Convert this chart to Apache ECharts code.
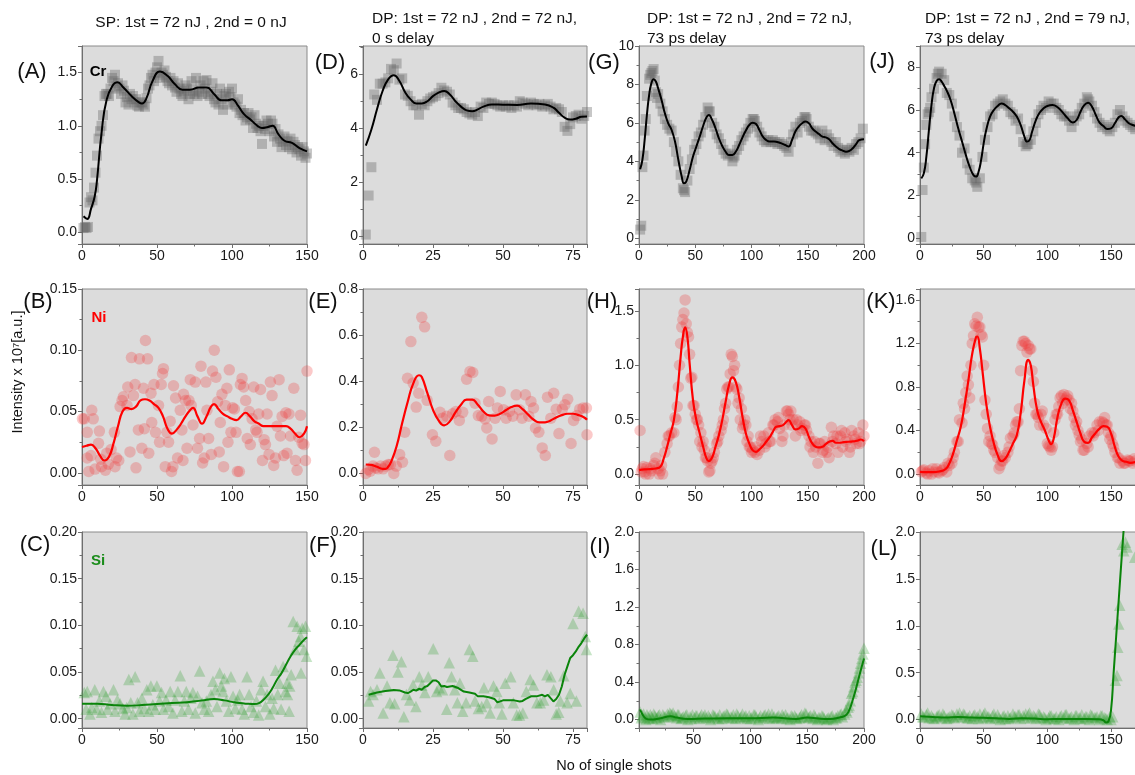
<!DOCTYPE html>
<html><head><meta charset="utf-8">
<script src="https://cdn.jsdelivr.net/npm/echarts@6/dist/echarts.min.js"></script>
<style>html,body{margin:0;padding:0;background:#fff}#c{width:1135px;height:775px}</style>
</head><body><div id="c"></div>
<script>
// ---------- DATA ----------
const colTitles = [
  ["SP: 1st = 72 nJ , 2nd = 0 nJ"],
  ["DP: 1st = 72 nJ , 2nd = 72 nJ,", "0 s delay"],
  ["DP: 1st = 72 nJ , 2nd = 72 nJ,", "73 ps delay"],
  ["DP: 1st = 72 nJ , 2nd = 79 nJ,", "73 ps delay"]
];
const panelLetters = ["A","D","G","J","B","E","H","K","C","F","I","L"];
const elements = ["Cr","Ni","Si"];
const yAxisName = "Intensity x 10\u2077[a.u.]";
const xAxisName = "No of single shots";

// Cr (row 1) scatter values (y per shot, x0, dx)
const A_y = [0.04,0.05,0.04,0.05,0.28,0.33,0.30,0.42,0.56,0.72,
 0.88,0.95,1.00,1.10,1.28,1.30,1.30,1.28,1.35,1.45,
 1.42,1.48,1.37,1.40,1.35,1.30,1.38,1.33,1.22,1.27,
 1.20,1.30,1.25,1.28,1.22,1.25,1.19,1.18,1.22,1.22,
 1.20,1.18,1.26,1.35,1.38,1.45,1.48,1.42,1.50,1.55,
 1.61,1.45,1.50,1.48,1.52,1.46,1.42,1.40,1.45,1.38,
 1.42,1.36,1.32,1.40,1.35,1.30,1.28,1.33,1.38,1.35,
 1.25,1.30,1.42,1.33,1.30,1.45,1.28,1.32,1.38,1.30,
 1.42,1.35,1.43,1.30,1.28,1.32,1.40,1.25,1.22,1.30,
 1.20,1.35,1.25,1.15,1.28,1.30,1.20,1.32,1.27,1.35,
 1.22,1.20,1.18,1.25,1.12,1.15,1.10,1.12,1.05,1.08,
 1.12,1.06,1.08,0.98,1.10,1.02,0.98,1.00,0.95,0.83,
 1.00,0.97,1.05,1.02,0.95,1.05,1.02,0.90,0.97,0.85,
 0.92,0.88,0.80,0.85,0.90,0.82,0.86,0.80,0.88,0.78,
 0.85,0.82,0.75,0.80,0.78,0.72,0.80,0.76,0.70,0.74];
const A_fit = [[1,0.15],[3.5,0.125],[6,0.22],[8.5,0.34],[10,0.49],[13,0.93],[16.5,1.25],[21,1.39],[23.5,1.41],[27.6,1.36],[33,1.28],[38,1.22],[40,1.21],[43,1.26],[47,1.42],[52,1.51],[57,1.47],[62,1.39],[67,1.34],[72,1.34],[78,1.36],[83,1.36],[88,1.30],[93,1.24],[97,1.24],[100,1.25],[104,1.19],[108,1.11],[113,1.05],[117,1.0],[120,0.98],[124,0.99],[127,1.0],[131,0.92],[135,0.86],[140,0.84],[145,0.79],[150,0.76]];

const D_y = [0.05,1.5,2.55,5.25,5.05,5.65,5.65,5.7,5.85,6.2,
 6.15,6.4,5.8,5.85,5.25,5.2,5.0,4.85,4.85,4.5,
 4.9,4.85,5.0,5.1,5.15,5.2,5.3,5.5,5.4,5.35,
 5.25,4.95,4.85,4.75,4.75,4.7,4.6,4.55,4.5,4.6,
 4.45,4.8,4.75,4.95,4.9,4.95,4.9,4.85,4.8,4.85,
 4.8,4.85,4.75,4.85,4.8,5.0,4.95,4.9,4.85,4.95,
 4.9,4.85,4.9,4.8,4.85,4.9,4.8,4.7,4.75,4.7,
 4.6,4.05,3.9,4.15,4.4,4.45,4.5,4.35,4.45,4.6];
const D_fit = [[1,3.35],[3,3.95],[5,4.7],[7,5.38],[9,5.81],[11,5.96],[13,5.75],[15,5.34],[17,5.07],[19,4.92],[21,4.92],[23,5.0],[25,5.19],[27,5.32],[29,5.38],[31,5.25],[33,5.0],[35,4.8],[37,4.66],[39,4.63],[41,4.7],[43,4.8],[46,4.88],[50,4.87],[55,4.86],[60,4.92],[65,4.88],[68,4.76],[70,4.57],[72,4.39],[74,4.32],[76,4.35],[78,4.42],[80,4.43]];

const G_y = [0.45,3.7,5.6,7.4,8.3,8.6,8.8,7.6,7.5,7.0,
 6.6,6.2,5.9,5.7,5.6,5.0,4.5,4.0,3.3,2.6,
 2.4,3.0,3.6,4.1,4.6,4.9,5.3,5.5,5.9,6.3,
 6.8,6.6,6.0,5.8,5.4,5.2,4.9,4.6,4.4,4.3,
 4.4,4.0,4.3,4.6,4.8,5.1,5.3,5.5,5.7,6.0,
 6.2,6.1,5.8,5.5,5.3,5.1,5.0,5.1,5.0,5.1,
 5.0,4.9,5.0,4.9,4.8,4.7,4.5,5.0,5.4,5.8,
 5.5,6.0,6.1,6.3,6.2,5.8,5.6,5.6,5.5,5.4,
 5.2,5.6,5.1,5.4,5.2,5.0,4.8,5.0,4.7,4.5,
 4.6,4.4,4.6,4.5,4.7,4.6,4.9,5.0,5.2,5.7];
const G_extra = [[2,0.65],[4,4.3],[6,6.2],[10,8.5],[12,8.7],[14,8.2],[16,7.3],[40,2.5],[62,6.6],[84,4.2],[102,6.2],[148,6.3]];
const G_fit = [[1,3.59],[3,4.07],[5,5.1],[7,6.4],[9,7.45],[11,8.06],[13,8.27],[15,8.15],[17,7.8],[20,7.2],[23,6.5],[26,5.98],[29,5.63],[32,5.03],[35,4.07],[38,3.2],[40,2.86],[42,2.95],[45,3.55],[48,4.25],[51,4.77],[54,5.29],[57,5.84],[60,6.29],[62,6.41],[65,6.15],[68,5.72],[71,5.2],[74,4.8],[77,4.5],[80,4.33],[83,4.33],[86,4.5],[89,4.85],[92,5.25],[95,5.6],[98,5.89],[101,6.01],[104,5.94],[107,5.63],[110,5.29],[113,5.11],[116,5.03],[120,5.03],[125,4.97],[130,4.85],[133,4.77],[136,5.11],[139,5.55],[142,5.81],[145,5.98],[148,6.07],[151,5.98],[154,5.72],[157,5.55],[160,5.42],[163,5.29],[166,5.25],[169,5.15],[172,4.94],[175,4.77],[178,4.64],[181,4.56],[184,4.5],[187,4.54],[190,4.68],[193,4.9],[196,5.11],[200,5.15]];

const J_y = [0.05,3.3,5.3,5.9,6.6,7.0,7.5,7.8,7.7,7.4,
 6.8,6.7,6.3,5.7,5.2,4.8,4.0,4.2,3.5,3.2,
 2.8,2.7,2.4,2.8,3.8,4.6,5.2,5.7,5.8,6.2,
 6.3,6.4,6.5,6.3,6.2,5.9,5.8,5.5,5.6,5.1,
 4.5,4.3,4.4,4.6,5.0,5.4,5.8,6.0,6.2,6.1,
 6.4,6.3,6.3,6.1,6.0,5.8,5.7,5.7,5.5,5.2,
 5.5,5.7,5.8,6.1,6.3,6.6,6.4,6.2,5.9,5.6,
 5.4,5.2,5.3,5.1,5.0,5.2,5.4,5.8,6.0,5.7,
 5.5,5.4,5.3,5.2,5.1];
const J_extra = [[2,2.25],[4,4.4],[6,5.8],[8,6.1],[14,7.7],[44,2.6],[84,4.4],[132,6.5]];
const J_fit = [[1,2.8],[3,3.03],[5,3.81],[7,5.06],[9,6.23],[11,7.02],[13,7.36],[15,7.44],[17,7.33],[19,7.13],[21,6.91],[24,6.47],[27,5.84],[30,5.14],[33,4.52],[36,3.89],[39,3.34],[42,2.95],[44,2.88],[46,3.11],[48,3.66],[50,4.44],[52,5.06],[55,5.69],[58,6.0],[61,6.19],[64,6.31],[67,6.23],[70,6.08],[73,5.92],[76,5.69],[79,5.3],[82,4.75],[84,4.52],[86,4.59],[88,4.98],[91,5.53],[94,5.88],[97,6.08],[100,6.19],[104,6.23],[108,6.13],[112,5.89],[116,5.61],[120,5.42],[123,5.53],[126,5.92],[129,6.23],[132,6.34],[135,6.16],[138,5.77],[141,5.41],[144,5.25],[147,5.11],[150,5.14],[153,5.38],[156,5.66],[158,5.72],[161,5.56],[164,5.38],[167,5.3],[170,5.25]];

// Ni (row 2)
const B_pts = [[0.3,0.044],[1.5,0.044],[3.5,0.033],[3.5,0.012],[4.5,0.001],[6,0.014],[6.5,0.051],[7.5,0.044],[8.7,0.003],[11,0.024],[11.6,0.034],[12.5,0.011],[13,0.005],[15.6,0.002],[16.5,0.016],[17.6,0.007],[19.4,0.019],[21.6,0.033],[22,0.005],[23,0.012],[24.5,0.010],[25.4,0.054],[26.7,0.059],[27.6,0.062],[30,0.055],[30.5,0.070],[32,0.017],[33,0.094],[34.3,0.063],[35.4,0.072],[36,0.004],[37.6,0.035],[38.3,0.093],[39.9,0.020],[41,0.069],[41.6,0.036],[42.3,0.108],[43.7,0.093],[44.5,0.016],[46,0.065],[46.5,0.041],[48,0.072],[49,0.033],[51,0.055],[51.7,0.025],[52.8,0.072],[53.7,0.081],[54.3,0.085],[55.5,0.005],[56.6,0.033],[57.7,0.025],[58.8,0.042],[59.7,0.001],[60.6,0.005],[61,0.071],[62.4,0.061],[63.7,0.012],[65.5,0.051],[66.6,0.035],[67.3,0.010],[67.7,0.064],[69,0.059],[70,0.020],[71.3,0.059],[72.2,0.076],[72.8,0.055],[74,0.039],[75.5,0.074],[77,0.020],[78.4,0.028],[79.3,0.087],[80.4,0.008],[81.5,0.012],[82.6,0.074],[83.3,0.051],[84.4,0.028],[86.2,0.015],[87,0.083],[88.2,0.100],[89.3,0.078],[90.4,0.058],[91.5,0.017],[92.2,0.041],[93.3,0.064],[94.4,0.005],[95.5,0.055],[96.6,0.069],[97.3,0.025],[98.2,0.084],[99.3,0.033],[100.4,0.053],[101.6,0.052],[102.7,0.033],[103.6,0.001],[104.9,0.001],[105.6,0.072],[106.7,0.077],[107.8,0.070],[109.1,0.059],[110.2,0.028],[111.4,0.050],[112.2,0.023],[113.4,0.044],[114.5,0.070],[115.8,0.035],[116.7,0.033],[117.8,0.048],[119,0.068],[120.3,0.010],[121.4,0.027],[122.3,0.023],[123.4,0.048],[124.7,0.015],[125.6,0.074],[126.7,0.063],[127.8,0.006],[129,0.012],[130,0.038],[131.4,0.076],[132.3,0.030],[133.4,0.046],[134.5,0.014],[135.9,0.049],[136.7,0.016],[138,0.048],[139,0.030],[141.2,0.069],[142.3,0.010],[143.4,0.002],[144.5,0.029],[145.7,0.047],[146.8,0.024],[148,0.023],[149,0.010],[150,0.083]];
const B_fit = [[0,0.021],[3,0.022],[6,0.023],[9,0.020],[12,0.014],[15,0.010],[18,0.013],[21,0.024],[24,0.038],[27,0.050],[30,0.053],[33,0.052],[36,0.054],[39,0.059],[42,0.060],[45,0.059],[48,0.056],[51,0.053],[54,0.046],[57,0.036],[60,0.032],[63,0.035],[66,0.040],[69,0.046],[72,0.051],[74,0.053],[77,0.046],[80,0.040],[83,0.046],[86,0.054],[88,0.056],[91,0.052],[94,0.048],[97,0.046],[100,0.044],[103,0.043],[106,0.046],[109,0.049],[112,0.046],[115,0.042],[118,0.040],[121,0.038],[124,0.038],[130,0.038],[136,0.038],[139,0.036],[142,0.032],[145,0.029],[148,0.032],[150,0.038]];

const E_pts = [[1,0.0],[1.9,0.017],[2.6,0.010],[3.6,0.032],[4.1,0.092],[4.5,0.024],[5.4,0.020],[6.3,0.032],[7.2,0.020],[8.1,0.032],[9,0.039],[9.8,0.039],[11,0.0],[11.9,0.032],[13.1,0.082],[14.1,0.049],[14.9,0.179],[15.9,0.413],[17.1,0.572],[17.9,0.392],[19,0.288],[19.9,0.348],[21,0.677],[22,0.636],[22.9,0.317],[24.8,0.168],[26,0.140],[27.5,0.265],[28.4,0.240],[29.9,0.248],[31,0.078],[32,0.259],[33.2,0.269],[34.4,0.230],[35.6,0.265],[37,0.409],[38.2,0.442],[39.2,0.438],[40,0.305],[41.2,0.251],[42.4,0.248],[43.6,0.236],[44.2,0.197],[44.9,0.312],[46.1,0.150],[47.2,0.240],[48,0.284],[49,0.356],[50.2,0.276],[51.1,0.240],[52.3,0.269],[53.5,0.248],[54.7,0.341],[55.9,0.276],[56.8,0.240],[58,0.341],[59.2,0.248],[60,0.312],[60.9,0.284],[61.6,0.197],[62.8,0.179],[64,0.111],[65.1,0.078],[65.9,0.331],[67.1,0.240],[68.1,0.348],[69,0.279],[70,0.173],[71.2,0.279],[72.1,0.298],[73.1,0.322],[74.3,0.130],[75.2,0.230],[76.4,0.251],[77.4,0.279],[78.6,0.284],[79.8,0.284],[80,0.168]];
const E_fit = [[1,0.039],[3,0.037],[5,0.029],[7,0.02],[8,0.02],[9,0.029],[10,0.049],[12,0.118],[14,0.219],[16,0.312],[18,0.392],[20,0.426],[21,0.418],[23,0.348],[25,0.276],[27,0.23],[29,0.209],[31,0.226],[33,0.265],[35,0.298],[37,0.32],[39,0.32],[41,0.298],[43,0.269],[45,0.252],[47,0.251],[49,0.259],[51,0.274],[53,0.288],[55,0.294],[57,0.279],[59,0.255],[61,0.233],[63,0.222],[65,0.222],[67,0.23],[69,0.243],[71,0.253],[73,0.259],[75,0.259],[77,0.253],[79,0.243],[80,0.233]];

const H_y = [0.40,0.05,0.02,0.06,0.0,0.03,0.08,0.15,0.05,0.03,
 0.0,0.2,0.28,0.35,0.38,0.38,0.5,0.8,1.2,1.42,
 1.60,1.3,1.1,0.89,0.63,0.5,0.45,0.38,0.3,0.15,
 0.12,0.03,0.12,0.2,0.28,0.35,0.4,0.5,0.65,0.8,
 0.92,1.08,1.0,0.78,0.7,0.6,0.45,0.45,0.35,0.25,
 0.22,0.2,0.18,0.22,0.3,0.35,0.28,0.38,0.3,0.45,
 0.5,0.48,0.42,0.3,0.45,0.58,0.55,0.58,0.5,0.35,
 0.45,0.48,0.42,0.45,0.4,0.35,0.3,0.2,0.25,0.1,
 0.28,0.2,0.3,0.2,0.15,0.43,0.35,0.28,0.2,0.35,
 0.25,0.38,0.32,0.2,0.4,0.35,0.28,0.38,0.3,0.45];
const H_extra = [[2,0.02],[4,0.07],[6,0.0],[10,0.05],[14,0.1],[18,0.0],[20,0.08],[26,0.35],[32,0.52],[34,0.62],[36,1.0],[38,1.35],[40,1.48],[42,1.38],[44,1.26],[46,0.88],[48,0.63],[50,0.55],[52,0.5],[54,0.3],[56,0.25],[58,0.22],[60,0.15],[62,0.02],[64,0.1],[66,0.15],[70,0.3],[74,0.45],[76,0.6],[78,0.78],[80,0.8],[82,1.1],[84,0.95],[86,0.8],[88,0.65],[90,0.5],[92,0.42],[94,0.5],[96,0.3],[98,0.25],[100,0.2],[104,0.25],[108,0.35],[112,0.25],[116,0.3],[120,0.45],[124,0.52],[128,0.35],[132,0.58],[134,0.5],[136,0.45],[140,0.5],[144,0.4],[148,0.45],[152,0.25],[156,0.3],[160,0.28],[164,0.22],[168,0.25],[172,0.3],[176,0.35],[180,0.4],[184,0.3],[188,0.25],[192,0.32],[196,0.28],[200,0.35]];
const H_fit = [[0,0.037],[5,0.043],[10,0.046],[15,0.052],[19,0.067],[22,0.144],[25,0.251],[28,0.373],[31,0.496],[34,0.741],[37,1.077],[39,1.261],[41,1.347],[43,1.261],[45,1.016],[48,0.68],[51,0.496],[54,0.373],[57,0.251],[60,0.144],[62,0.119],[65,0.153],[68,0.251],[71,0.358],[74,0.496],[77,0.664],[80,0.817],[83,0.888],[86,0.848],[89,0.71],[92,0.526],[95,0.373],[98,0.282],[101,0.22],[104,0.205],[107,0.227],[110,0.257],[113,0.297],[116,0.337],[119,0.389],[122,0.435],[125,0.441],[128,0.45],[131,0.481],[133,0.496],[136,0.45],[139,0.41],[142,0.419],[145,0.441],[148,0.419],[151,0.343],[154,0.282],[157,0.251],[160,0.245],[163,0.251],[166,0.275],[169,0.297],[172,0.306],[175,0.288],[178,0.288],[182,0.294],[186,0.297],[190,0.3],[194,0.306],[197,0.318],[200,0.303]];

const K_y = [0.02,0.04,0.01,0.03,0.0,0.02,0.05,0.01,0.03,0.06,
 0.02,0.08,0.10,0.2,0.3,0.5,0.47,0.6,0.9,0.7,
 1.2,1.38,1.44,1.35,1.26,0.68,0.42,0.35,0.27,0.2,
 0.15,0.08,0.12,0.15,0.2,0.33,0.35,0.45,0.48,0.95,
 1.22,1.2,1.18,1.15,0.85,0.55,0.52,0.55,0.45,0.42,
 0.26,0.22,0.38,0.55,0.62,0.72,0.73,0.7,0.68,0.65,
 0.52,0.48,0.36,0.32,0.22,0.28,0.35,0.38,0.38,0.45,
 0.48,0.48,0.52,0.45,0.32,0.28,0.2,0.15,0.1,0.12,
 0.1,0.13,0.12,0.1,0.12];
const K_extra = [[2,0.03],[6,0.0],[10,0.05],[14,0.02],[18,0.04],[22,0.1],[26,0.15],[30,0.3],[34,0.65],[36,0.75],[38,0.82],[40,1.0],[42,1.27],[44,1.36],[46,1.35],[48,1.28],[50,1.0],[52,0.55],[54,0.3],[56,0.28],[58,0.22],[62,0.05],[64,0.12],[66,0.17],[70,0.25],[74,0.38],[76,0.48],[78,0.6],[80,1.18],[82,1.22],[84,1.12],[86,1.15],[88,0.95],[90,0.65],[92,0.55],[94,0.45],[96,0.58],[100,0.28],[102,0.25],[104,0.25],[106,0.5],[108,0.55],[110,0.7],[112,0.65],[114,0.68],[116,0.72],[118,0.6],[120,0.58],[122,0.45],[124,0.4],[126,0.3],[128,0.22],[132,0.25],[136,0.35],[140,0.4],[144,0.47],[146,0.45],[148,0.38],[150,0.35],[152,0.25],[156,0.15],[160,0.1],[164,0.12],[168,0.14]];
const K_fit = [[0,0.021],[5,0.018],[10,0.018],[15,0.024],[20,0.046],[23,0.098],[26,0.189],[29,0.311],[32,0.434],[35,0.632],[38,0.861],[41,1.105],[44,1.258],[45,1.264],[47,1.151],[49,0.953],[52,0.647],[55,0.434],[58,0.281],[61,0.174],[64,0.119],[67,0.144],[70,0.205],[73,0.281],[76,0.357],[79,0.556],[82,0.861],[85,1.05],[87,0.998],[89,0.815],[92,0.586],[95,0.479],[98,0.403],[101,0.311],[103,0.275],[105,0.327],[108,0.525],[111,0.647],[114,0.693],[117,0.678],[120,0.586],[123,0.479],[126,0.373],[129,0.296],[132,0.287],[135,0.336],[138,0.379],[141,0.418],[144,0.44],[147,0.434],[150,0.373],[153,0.25],[156,0.159],[159,0.122],[162,0.113],[165,0.104],[170,0.113]];

// Si (row 3)
const C_pts = [[1.5,0.028],[3.5,0.029],[2.7,0.010],[5.3,0.005],[6.5,0.012],[8.5,0.031],[9.8,0.010],[11.6,0.019],[13,0.007],[14.3,0.029],[16,0.024],[17,0.010],[18.7,0.016],[21,0.031],[22,0.008],[23.6,0.020],[25.4,0.016],[27.2,0.011],[28.7,0.005],[29.8,0.012],[31.2,0.042],[32.5,0.017],[33.9,0.005],[35.4,0.045],[37,0.017],[38.3,0.008],[39.9,0.022],[41.4,0.011],[43.2,0.031],[44.5,0.008],[45.9,0.035],[47.2,0.015],[48.8,0.010],[49.9,0.035],[51.7,0.019],[53,0.028],[54.3,0.010],[56.1,0.020],[57.7,0.013],[58.8,0.029],[60.6,0.006],[62.1,0.020],[63.9,0.029],[65.5,0.046],[66.6,0.008],[68.2,0.019],[69.5,0.029],[71,0.010],[72.6,0.022],[73.9,0.028],[75.5,0.006],[77,0.024],[78.4,0.051],[80,0.017],[81.5,0.010],[82.9,0.019],[84.4,0.008],[86,0.026],[87.3,0.040],[88.9,0.031],[90,0.013],[91.8,0.049],[92.9,0.035],[94,0.029],[94.9,0.043],[96.2,0.019],[97.8,0.008],[99.3,0.045],[100.7,0.024],[102.2,0.011],[103.8,0.020],[105.1,0.026],[106.7,0.010],[108.2,0.005],[110,0.045],[111.4,0.026],[112.7,0.013],[114.5,0.007],[116.3,0.019],[117.8,0.004],[119.4,0.031],[120.7,0.040],[122.3,0.013],[123.4,0.026],[125.2,0.005],[126.7,0.022],[127.8,0.011],[129,0.052],[130.5,0.026],[131.8,0.038],[132.7,0.010],[134.1,0.056],[135.6,0.029],[136.7,0.038],[137,0.026],[138.1,0.008],[138.5,0.035],[139.4,0.047],[140.8,0.104],[142.1,0.074],[143.4,0.099],[144.5,0.083],[145.7,0.088],[146,0.049],[146.8,0.097],[148,0.074],[149,0.099],[149.7,0.067]];
const C_fit = [[0,0.016],[10,0.016],[20,0.0146],[30,0.0139],[40,0.0146],[50,0.0157],[60,0.0167],[70,0.0175],[80,0.0196],[88,0.021],[95,0.0196],[100,0.018],[105,0.0167],[110,0.016],[115,0.0157],[118,0.0167],[121,0.0203],[124,0.0256],[127,0.0328],[130,0.0417],[133,0.0488],[136,0.0577],[139,0.0666],[142,0.0737],[145,0.0791],[148,0.0844],[150,0.0873]];

const F_pts = [[2,0.019],[2.7,0.029],[3.6,0.026],[5,0.031],[6,0.049],[7.2,0.006],[8.6,0.035],[9.6,0.017],[10.7,0.068],[11.3,0.016],[12.5,0.050],[13.7,0.061],[14.6,0.002],[15.5,0.026],[16.7,0.020],[17.9,0.036],[18.9,0.013],[20.1,0.045],[21,0.036],[22.1,0.028],[23.3,0.045],[25.1,0.075],[26.3,0.029],[27.2,0.033],[28.4,0.031],[29.9,0.010],[30.8,0.060],[31.6,0.045],[32.8,0.031],[33.7,0.017],[34.6,0.038],[35.6,0.008],[36.8,0.017],[38,0.074],[39.2,0.067],[40,0.019],[41.2,0.011],[42.4,0.013],[43.2,0.033],[44.2,0.017],[45.4,0.006],[46.6,0.035],[47.8,0.029],[48.7,0.017],[49.6,0.005],[50.8,0.038],[52.8,0.045],[53.7,0.017],[54.9,0.004],[55.9,0.004],[57.1,0.006],[58.3,0.029],[59.7,0.042],[60.9,0.036],[62.1,0.017],[63.3,0.017],[64.5,0.020],[65.7,0.047],[67.1,0.045],[68.1,0.031],[69,0.005],[69.9,0.007],[70.5,0.019],[71.7,0.046],[72.9,0.017],[74,0.027],[75,0.102],[76.2,0.019],[77,0.115],[78.6,0.113],[79.4,0.088],[79.8,0.074]];
const F_fit = [[2,0.0256],[5,0.028],[8,0.0296],[11,0.0306],[13,0.0303],[15,0.028],[16,0.0274],[17,0.029],[18,0.031],[19,0.030],[20,0.032],[21,0.031],[22,0.034],[23,0.035],[24,0.038],[25,0.041],[26,0.041],[27,0.039],[28,0.0345],[29,0.035],[30,0.034],[32,0.035],[34,0.0328],[36,0.029],[38,0.028],[40,0.0267],[41,0.0239],[43,0.024],[45,0.023],[47,0.021],[48,0.0175],[49,0.0185],[50,0.0196],[52,0.0196],[54,0.0196],[56,0.0185],[57,0.019],[58,0.021],[60,0.0239],[62,0.0239],[64,0.0256],[65,0.0239],[66,0.0256],[67,0.022],[68,0.0185],[69,0.021],[70,0.0256],[71,0.0345],[72,0.047],[73,0.056],[74,0.065],[75,0.068],[76,0.072],[77,0.077],[78,0.081],[79,0.086],[80,0.090]];

const I_y = [0.08,0.04,0.02,0.05,0.01,0.03,0.06,0.02,0.04,0.0,
 0.05,0.03,0.06,0.07,0.05,0.04,0.02,0.05,0.01,0.03,
 0.04,0.0,0.03,0.05,0.02,0.04,0.01,0.05,0.03,0.02,
 0.04,0.0,0.05,0.03,0.02,0.05,0.01,0.04,0.06,0.02,
 0.03,0.05,0.01,0.04,0.02,0.06,0.03,0.01,0.04,0.02,
 0.05,0.03,0.0,0.04,0.02,0.05,0.03,0.01,0.06,0.03,
 0.02,0.04,0.01,0.03,0.05,0.02,0.0,0.03,0.04,0.01,
 0.02,0.05,0.03,0.06,0.02,0.04,0.01,0.03,0.0,0.02,
 0.04,0.01,0.0,0.02,0.03,0.0,0.02,0.04,0.05,0.03,
 0.06,0.08,0.15,0.28,0.35,0.42,0.5,0.6,0.7];
const I_extra = [[4,0.02],[6,0.06],[8,0.0],[10,0.03],[12,0.05],[14,0.01],[16,0.04],[18,0.02],[20,0.05],[24,0.03],[28,0.04],[30,0.06],[32,0.07],[34,0.03],[36,0.05],[40,0.02],[44,0.05],[48,0.01],[52,0.04],[56,0.03],[60,0.05],[64,0.02],[68,0.04],[72,0.01],[76,0.03],[80,0.05],[84,0.02],[88,0.06],[92,0.03],[96,0.04],[100,0.01],[104,0.05],[108,0.02],[112,0.04],[116,0.06],[120,0.02],[124,0.03],[128,0.05],[132,0.01],[136,0.04],[140,0.02],[144,0.03],[148,0.07],[152,0.03],[156,0.05],[160,0.02],[164,0.03],[168,0.01],[172,0.04],[176,0.02],[180,0.06],[184,0.1],[186,0.13],[188,0.2],[190,0.3],[192,0.4],[194,0.45],[196,0.55],[198,0.65],[200,0.76]];
const I_fit = [[3,0.107],[5,0.057],[8,0.011],[12,0.0],[20,0.011],[30,0.036],[35,0.021],[45,0.007],[60,0.011],[80,0.014],[100,0.014],[120,0.021],[140,0.007],[150,0.021],[160,0.011],[170,0.007],[180,0.028],[184,0.046],[187,0.1],[190,0.206],[193,0.331],[196,0.473],[198,0.562],[200,0.651]];

const L_y = [0.06,0.03,0.05,0.02,0.04,0.01,0.03,0.05,0.02,0.04,
 0.01,0.03,0.05,0.02,0.06,0.07,0.03,0.05,0.02,0.04,
 0.01,0.05,0.03,0.06,0.02,0.07,0.03,0.01,0.04,0.02,
 0.05,0.0,0.03,0.01,0.04,0.02,0.06,0.03,0.05,0.01,
 0.04,0.06,0.05,0.02,0.04,0.01,0.06,0.02,0.03,0.0,
 0.02,0.04,0.01,0.03,0.0,0.04,0.02,0.05,0.01,0.03,
 0.0,0.04,0.02,0.05,0.01,0.03,0.0,0.04,0.02,0.03,
 0.0,0.04,0.02,0.0,0.03];
const L_extra = [[2,0.03],[6,0.07],[10,0.02],[14,0.04],[18,0.06],[22,0.02],[26,0.04],[30,0.03],[34,0.06],[38,0.02],[42,0.04],[46,0.01],[50,0.05],[54,0.03],[58,0.06],[62,0.02],[66,0.04],[70,0.01],[74,0.03],[78,0.05],[82,0.02],[86,0.07],[90,0.03],[94,0.05],[98,0.02],[102,0.04],[106,0.01],[110,0.03],[114,0.05],[118,0.02],[122,0.04],[126,0.01],[130,0.03],[134,0.05],[138,0.02],[142,0.04],[146,0.01],[150,0.0],[151.3,0.03],[153.4,0.42],[154.7,0.47],[155.3,0.77],[156,1.02],[156.8,1.22],[158.7,1.87],[160,1.8],[161.3,1.89],[162.6,1.84],[168.6,1.73]];
const L_fit = [[0,0.035],[10,0.028],[20,0.021],[30,0.028],[40,0.021],[50,0.018],[60,0.014],[70,0.007],[80,0.014],[90,0.011],[100,0.004],[110,0.007],[120,0.007],[130,0.007],[140,0.004],[144,-0.007],[146,-0.032],[148,-0.018],[150,0.1],[152,0.49],[154,0.88],[156,1.27],[158,1.66],[160,2.04],[162,2.42]];

// ---------- BUILD ----------
function seq(x0, dx, ys) { return ys.map((y, i) => [x0 + i * dx, y]); }

const FONT = "'Liberation Sans', Arial, Helvetica, sans-serif";
const colX = [82, 363, 639, 920];
const colW = [225, 224, 225, 216.5];
const rowY = [46, 289, 532];
const rowH = [198, 196, 196];

const styles = [
  {symbol: 'rect', size: 10, color: 'rgba(100,100,100,0.45)', line: '#000000', lw: 2},
  {symbol: 'circle', size: 11.5, color: 'rgba(240,60,60,0.35)', line: '#ff0000', lw: 2.2},
  {symbol: 'triangle', size: 11.5, color: 'rgba(50,160,50,0.35)', line: '#0a840a', lw: 2}
];

const panels = [
  {r:0,c:0, x:[0,150,50], y:[-0.11,1.75,0.5], yd:1, yMaxLab:false, xMinLab:true, xMaxLab:true, pts:seq(1,1,A_y), fit:A_fit, smooth:true},
  {r:0,c:1, x:[0,80,25], y:[-0.3,7.05,2], yd:0, yMaxLab:false, xMinLab:true, xMaxLab:false, pts:seq(1,1,D_y), fit:D_fit, smooth:true},
  {r:0,c:2, x:[0,200,50], y:[-0.3,10,2], yd:0, yMaxLab:true, xMinLab:true, xMaxLab:true, pts:seq(1,2,G_y).concat(G_extra), fit:G_fit, smooth:true},
  {r:0,c:3, x:[0,170,50], y:[-0.28,9.0,2], yd:0, yMaxLab:false, xMinLab:true, xMaxLab:false, pts:seq(1,2,J_y).concat(J_extra), fit:J_fit, smooth:true},
  {r:1,c:0, x:[0,150,50], y:[-0.01,0.15,0.05], yd:2, yMaxLab:true, xMinLab:true, xMaxLab:true, pts:B_pts, fit:B_fit, smooth:true},
  {r:1,c:1, x:[0,80,25], y:[-0.05,0.8,0.2], yd:1, yMaxLab:true, xMinLab:true, xMaxLab:false, pts:E_pts, fit:E_fit, smooth:true},
  {r:1,c:2, x:[0,200,50], y:[-0.1,1.7,0.5], yd:1, yMaxLab:false, xMinLab:true, xMaxLab:true, pts:seq(1,2,H_y).concat(H_extra), fit:H_fit, smooth:true},
  {r:1,c:3, x:[0,170,50], y:[-0.1,1.7,0.4], yd:1, yMaxLab:false, xMinLab:true, xMaxLab:false, pts:seq(1,2,K_y).concat(K_extra), fit:K_fit, smooth:true},
  {r:2,c:0, x:[0,150,50], y:[-0.01,0.2,0.05], yd:2, yMaxLab:true, xMinLab:true, xMaxLab:true, pts:C_pts, fit:C_fit, smooth:true},
  {r:2,c:1, x:[0,80,25], y:[-0.01,0.2,0.05], yd:2, yMaxLab:true, xMinLab:true, xMaxLab:false, pts:F_pts, fit:F_fit, smooth:false},
  {r:2,c:2, x:[2,200,50], y:[-0.09,2.0,0.4], yd:1, yMaxLab:true, xMinLab:false, xMaxLab:true, pts:seq(3,2,I_y).concat(I_extra), fit:I_fit, smooth:true},
  {r:2,c:3, x:[0,170,50], y:[-0.09,2.0,0.5], yd:1, yMaxLab:true, xMinLab:true, xMaxLab:false, pts:seq(1,2,L_y).concat(L_extra), fit:L_fit, smooth:true}
];

const grids = [], xAxes = [], yAxes = [], series = [];
const axisCol = '#6e6e6e';
panels.forEach((p, i) => {
  grids.push({left: colX[p.c], top: rowY[p.r], width: colW[p.c], height: rowH[p.r],
    show: true, backgroundColor: '#dcdcdc', borderColor: '#8a8a8a', borderWidth: 1,
    containLabel: false, outerBoundsMode: 'none'});
  const common = {
    gridIndex: i, type: 'value', scale: false,
    splitLine: {show: false}, minorSplitLine: {show: false},
    axisLine: {show: true, onZero: false, lineStyle: {color: axisCol, width: 1}},
    axisTick: {show: true, length: 4, inside: false, lineStyle: {color: axisCol}},
    minorTick: {show: true, splitNumber: 2, length: 2.5, lineStyle: {color: axisCol}}
  };
  xAxes.push(Object.assign({}, common, {
    min: p.x[0], max: p.x[1], minInterval: p.x[2], maxInterval: p.x[2],
    axisLabel: {color: '#1a1a1a', fontSize: 14, fontFamily: FONT, margin: 5,
      showMinLabel: p.xMinLab, showMaxLabel: p.xMaxLab, formatter: v => String(Math.round(v))}
  }));
  yAxes.push(Object.assign({}, common, {
    min: p.y[0], max: p.y[1], minInterval: p.y[2], maxInterval: p.y[2],
    axisLabel: {color: '#1a1a1a', fontSize: 14, fontFamily: FONT, margin: 5,
      showMinLabel: false, showMaxLabel: p.yMaxLab, formatter: v => v.toFixed(p.yd)}
  }));
  const st = styles[p.r];
  series.push({type: 'scatter', xAxisIndex: i, yAxisIndex: i, data: p.pts,
    symbol: st.symbol, symbolSize: st.size, itemStyle: {color: st.color, borderWidth: 0},
    silent: true, z: 2, animation: false});
  series.push({type: 'line', xAxisIndex: i, yAxisIndex: i, data: p.fit,
    smooth: p.smooth, showSymbol: false, symbol: 'none', clip: true,
    lineStyle: {color: st.line, width: st.lw}, silent: true, z: 3, animation: false});
});

// text elements
const letterPos = [[32,72],[330,63],[604,63],[882,62],[38,302],[323,302],[602,302],[881,302],[35,545],[323,546],[600,547],[884,549]];
const graphics = [];
function txt(s, x, y, size, opts) {
  opts = opts || {};
  graphics.push({type: 'text', x: x, y: y, rotation: opts.rot || 0, z: 100,
    style: {text: s, font: (opts.bold ? 'bold ' : '') + size + 'px ' + FONT, fill: opts.color || '#111',
      textAlign: opts.align || 'center', align: opts.align || 'center',
      textVerticalAlign: 'middle', verticalAlign: 'middle'}});
}
panelLetters.forEach((L, i) => txt('(' + L + ')', letterPos[i][0], letterPos[i][1], 22));
txt(elements[0], 98, 72, 15, {bold: true, color: '#000'});
txt(elements[1], 99, 318, 15, {bold: true, color: '#ff0000'});
txt(elements[2], 98, 561, 15, {bold: true, color: '#1a8c1a'});
txt(colTitles[0][0], 191, 23, 15.5);
const titleX = [372, 647, 925];
for (let c = 1; c < 4; c++) {
  txt(colTitles[c][0], titleX[c-1], 19, 15.5, {align: 'left'});
  txt(colTitles[c][1], titleX[c-1], 39, 15.5, {align: 'left'});
}
txt(yAxisName, 18, 372, 14.5, {rot: Math.PI / 2});
txt(xAxisName, 614, 766, 14.5);

const chart = echarts.init(document.getElementById('c'), null, {renderer: 'canvas'});
chart.setOption({
  backgroundColor: '#ffffff',
  animation: false,
  grid: grids, xAxis: xAxes, yAxis: yAxes, series: series,
  graphic: graphics
});
</script></body></html>
